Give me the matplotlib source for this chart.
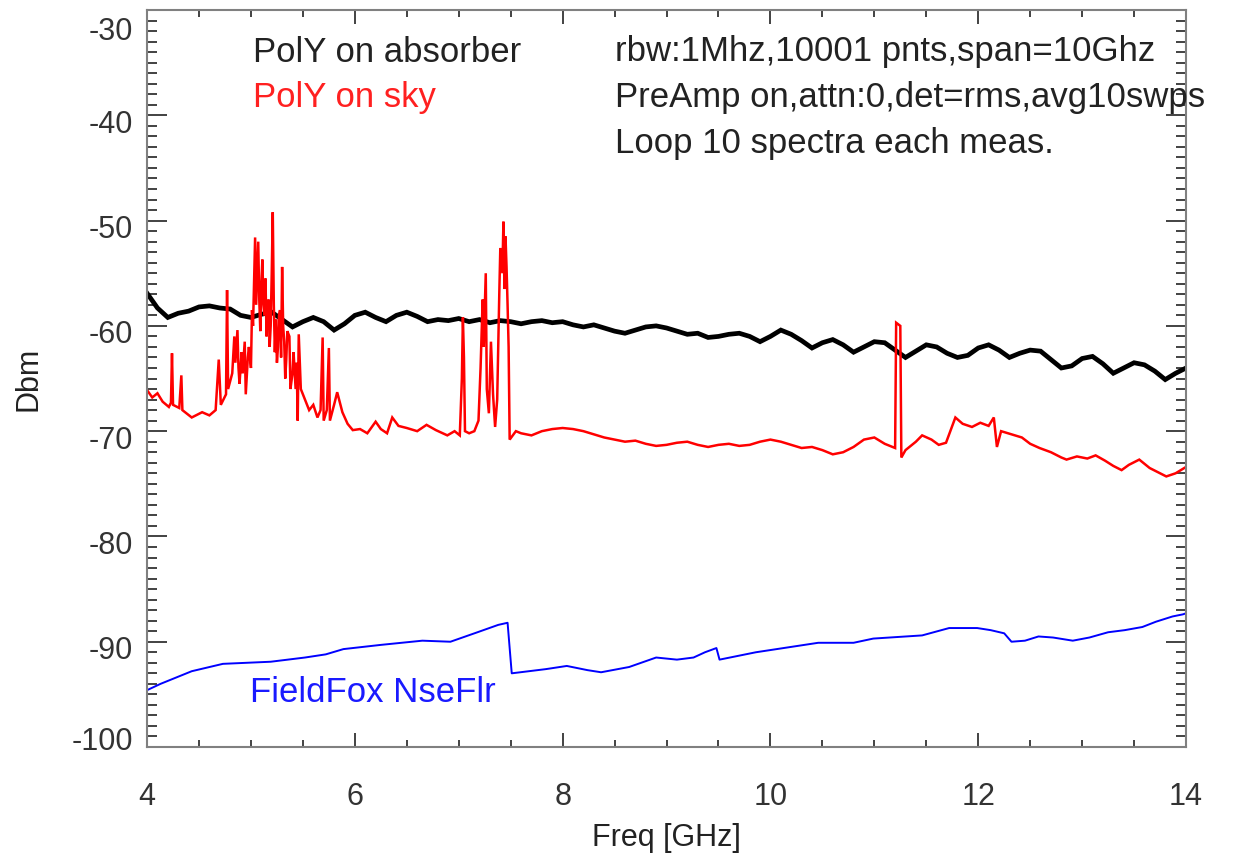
import matplotlib
matplotlib.use('Agg')
import matplotlib.pyplot as plt
from matplotlib.transforms import ScaledTranslation

plt.rcParams['font.family'] = ['Liberation Sans', 'DejaVu Sans']
plt.rcParams['axes.unicode_minus'] = False

# PolY on absorber (black), sampled every 0.1 GHz
abs_f = [4.0 + 0.1 * i for i in range(101)]
abs_db = [-56.9, -58.3, -59.2, -58.8, -58.6, -58.2, -58.1, -58.3, -58.4, -59.0,
          -59.2, -58.9, -58.7, -59.4, -60.1, -59.6, -59.2, -59.6, -60.4, -59.8,
          -59.0, -58.7, -59.2, -59.6, -59.0, -58.7, -59.1, -59.6, -59.4, -59.5,
          -59.3, -59.6, -59.4, -59.7, -59.5, -59.6, -59.8, -59.6, -59.5, -59.7,
          -59.6, -59.9, -60.1, -59.9, -60.2, -60.5, -60.7, -60.4, -60.1, -60.0,
          -60.2, -60.5, -60.8, -60.7, -61.1, -61.0, -60.8, -60.7, -61.0, -61.5,
          -61.0, -60.4, -60.8, -61.4, -62.1, -61.6, -61.3, -61.8, -62.5, -62.0,
          -61.5, -61.6, -62.3, -63.0, -62.4, -61.8, -62.0, -62.6, -63.0, -62.8,
          -62.1, -61.8, -62.3, -63.0, -62.6, -62.3, -62.4, -63.2, -64.0, -63.8,
          -63.1, -62.9, -63.6, -64.5, -64.0, -63.5, -63.7, -64.3, -65.1, -64.5,
          -64.0]

# PolY on sky (red), rows of 10 to keep f and dB aligned
sky_f = [4.00, 4.05, 4.10, 4.15, 4.21, 4.23, 4.24, 4.25, 4.31, 4.33,
         4.34, 4.43, 4.53, 4.60, 4.66, 4.69, 4.71, 4.76, 4.77, 4.78,
         4.82, 4.84, 4.85, 4.87, 4.88, 4.89, 4.91, 4.92, 4.94, 4.95,
         4.97, 4.98, 5.00, 5.01, 5.02, 5.04, 5.05, 5.06, 5.07, 5.08,
         5.09, 5.10, 5.11, 5.12, 5.13, 5.14, 5.15, 5.16, 5.17, 5.18,
         5.19, 5.20, 5.21, 5.22, 5.23, 5.24, 5.25, 5.26, 5.27, 5.28,
         5.29, 5.30, 5.31, 5.32, 5.33, 5.34, 5.35, 5.37, 5.38, 5.40,
         5.41, 5.43, 5.44, 5.45, 5.46, 5.48, 5.52, 5.56, 5.60, 5.64,
         5.67, 5.69, 5.70, 5.73, 5.75, 5.76, 5.80, 5.83, 5.88, 5.93,
         5.98, 6.05, 6.12, 6.20, 6.25, 6.31, 6.36, 6.42, 6.50, 6.60,
         6.69, 6.78, 6.89, 6.96, 7.01, 7.03, 7.04, 7.05, 7.06, 7.10,
         7.15, 7.19, 7.21, 7.23, 7.24, 7.26, 7.27, 7.29, 7.31, 7.33,
         7.35, 7.37, 7.39, 7.40, 7.42, 7.43, 7.44, 7.45, 7.46, 7.47,
         7.48, 7.49, 7.55, 7.60, 7.70, 7.80, 7.90, 8.00, 8.10, 8.20,
         8.30, 8.40, 8.50, 8.60, 8.70, 8.80, 8.90, 9.00, 9.10, 9.20,
         9.30, 9.40, 9.50, 9.60, 9.70, 9.80, 9.90, 10.0, 10.1, 10.2,
         10.3, 10.4, 10.5, 10.6, 10.7, 10.8, 10.9, 11.0, 11.1, 11.2,
         11.21, 11.25, 11.26, 11.3, 11.4, 11.46, 11.55, 11.62, 11.69, 11.78,
         11.85, 11.94, 12.02, 12.10, 12.15, 12.18, 12.22, 12.32, 12.42, 12.50,
         12.59, 12.70, 12.80, 12.85, 12.95, 13.05, 13.13, 13.22, 13.30, 13.38,
         13.45, 13.55, 13.65, 13.75, 13.81, 13.90, 14.00]
sky_db = [-66.1, -66.8, -66.4, -67.2, -67.7, -67.3, -62.6, -67.5, -67.8, -64.7,
          -68.0, -68.7, -68.2, -68.5, -68.0, -63.2, -67.5, -66.5, -56.6, -66.0,
          -64.5, -61.0, -63.5, -60.4, -64.0, -65.5, -62.5, -64.5, -61.5, -66.5,
          -63.0, -62.0, -64.0, -58.5, -60.0, -51.6, -58.0, -55.0, -52.0, -57.5,
          -60.5, -56.0, -53.7, -58.0, -59.0, -55.5, -61.0, -58.0, -57.5, -62.0,
          -60.0, -55.0, -49.2, -58.0, -62.5, -59.4, -63.5, -62.0, -59.0, -58.5,
          -63.0, -54.4, -60.0, -61.5, -65.0, -63.2, -60.5, -61.0, -66.0, -64.5,
          -62.5, -66.0, -63.5, -69.0, -60.8, -66.0, -67.0, -68.0, -67.5, -68.7,
          -68.0, -61.1, -69.0, -68.0, -62.1, -69.0, -67.5, -66.3, -68.2, -69.3,
          -69.9, -69.8, -70.2, -69.1, -69.8, -70.2, -68.7, -69.5, -69.7, -70.0,
          -69.4, -69.9, -70.4, -70.0, -70.4, -65.0, -59.2, -63.0, -70.0, -70.2,
          -70.0, -69.0, -64.0, -57.5, -62.0, -55.0, -66.0, -68.3, -61.5, -66.5,
          -69.6, -67.0, -57.0, -52.6, -55.0, -50.1, -56.5, -51.5, -54.4, -58.0,
          -62.0, -70.8, -70.0, -70.2, -70.4, -70.0, -69.8, -69.7, -69.8, -70.0,
          -70.3, -70.6, -70.8, -71.0, -70.9, -71.2, -71.4, -71.3, -71.1, -71.0,
          -71.3, -71.5, -71.3, -71.2, -71.4, -71.3, -71.0, -70.8, -71.0, -71.3,
          -71.6, -71.5, -71.8, -72.2, -72.0, -71.5, -70.8, -70.6, -71.2, -71.6,
          -59.7, -60.0, -72.5, -71.8, -71.0, -70.4, -70.8, -71.3, -71.1, -68.7,
          -69.3, -69.6, -69.2, -69.5, -68.7, -71.5, -70.0, -70.3, -70.6, -71.2,
          -71.6, -72.0, -72.5, -72.7, -72.4, -72.6, -72.3, -72.8, -73.3, -73.7,
          -73.2, -72.7, -73.5, -74.0, -74.3, -74.0, -73.4]

# FieldFox noise floor (blue)
nf_f = [4.00, 4.13, 4.43, 4.73, 5.19, 5.52, 5.72, 5.89, 6.25, 6.65, 6.92, 7.18, 7.38,
        7.47, 7.51, 7.84, 8.04, 8.24, 8.37, 8.64, 8.90, 9.10, 9.26, 9.37, 9.48, 9.51,
        9.86, 10.46, 10.80, 10.99, 11.46, 11.72, 11.99, 12.12, 12.25, 12.32, 12.45,
        12.58, 12.72, 12.91, 13.07, 13.25, 13.41, 13.58, 13.71, 13.87, 13.97, 14.0]
nf_db = [-94.6, -94.0, -92.8, -92.1, -91.9, -91.5, -91.2, -90.7, -90.3, -89.9, -90.0, -89.1, -88.4,
         -88.2, -93.0, -92.6, -92.3, -92.7, -92.9, -92.4, -91.5, -91.7, -91.5, -91.0, -90.6, -91.7,
         -91.0, -90.1, -90.1, -89.7, -89.4, -88.7, -88.7, -88.9, -89.2, -90.0, -89.9,
         -89.5, -89.6, -89.9, -89.6, -89.1, -88.9, -88.6, -88.1, -87.6, -87.4, -87.3]

x_ticks = [4, 6, 8, 10, 12, 14]
y_ticks = [-100, -90, -80, -70, -60, -50, -40, -30]

fig = plt.figure(figsize=(12.41, 8.65), dpi=100)
ax = fig.add_axes([0.1185, 0.1364, 0.8372, 0.852])

ax.plot(abs_f, abs_db, color='black', lw=3.4, solid_joinstyle='miter')
ax.plot(sky_f, sky_db, color='#ff0000', lw=1.8, solid_joinstyle='miter')
ax.plot(nf_f, nf_db, color='#0000ff', lw=1.4)

ax.set_xlim(4, 14)
ax.set_ylim(-100, -30)
ax.set_xticks(x_ticks)
ax.set_yticks(y_ticks)
ax.set_xticks([x / 2 for x in range(8, 29)], minor=True)
ax.set_yticks(list(range(-100, -29)), minor=True)

ax.tick_params(axis='both', which='both', direction='in', top=True, right=True,
               colors='#222222', labelcolor='#333333', width=1.2)
ax.tick_params(axis='y', which='major', length=14.5, labelsize=22, pad=10)
ax.tick_params(axis='y', which='minor', length=7)
ax.tick_params(axis='x', which='major', length=10, labelsize=22, pad=25)
ax.tick_params(axis='x', which='minor', length=5)
for s in ax.spines.values():
    s.set_color('#808080')
    s.set_linewidth(1.5)

# IDL-like vertical placement of the y tick labels
shifts = {-100: 9, -30: -18}
for val, lab in zip(y_ticks, ax.get_yticklabels()):
    dy = shifts.get(val, -6)
    lab.set_transform(lab.get_transform() + ScaledTranslation(0, dy / 100, fig.dpi_scale_trans))

ax.set_xlabel('Freq [GHz]', fontsize=22, color='#222222', labelpad=8)
ax.set_ylabel('Dbm', fontsize=22, color='#222222', labelpad=20)


def fig_text(px, py, s, color):
    fig.text(px / 1241, 1 - py / 865, s, fontsize=25, color=color, va='center', ha='left')


fig_text(253, 52, 'PolY on absorber', '#222222')
fig_text(253, 98, 'PolY on sky', '#ff2020')
fig_text(615, 52, 'rbw:1Mhz,10001 pnts,span=10Ghz', '#222222')
fig_text(615, 98, 'PreAmp on,attn:0,det=rms,avg10swps', '#222222')
fig_text(615, 144, 'Loop 10 spectra each meas.', '#222222')
fig_text(250, 692, 'FieldFox NseFlr', '#1a1aff')

fig.savefig('out.png', dpi=100)
